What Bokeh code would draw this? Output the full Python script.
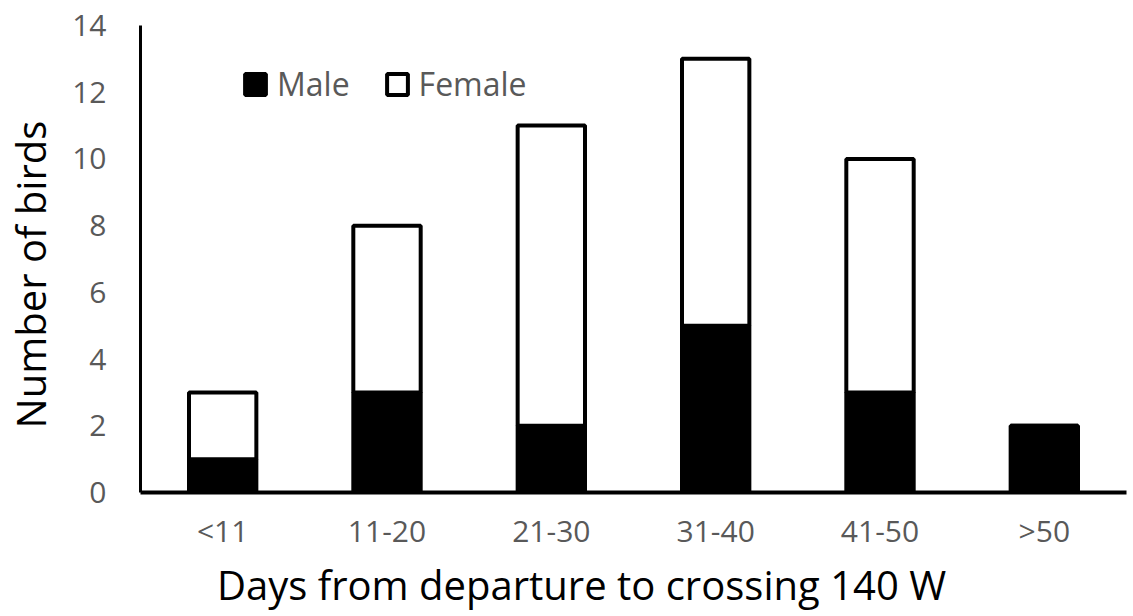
from bokeh.plotting import figure
from bokeh.models import FactorRange, Range1d, Legend, LegendItem, FixedTicker
from bokeh.embed import file_html
from bokeh.resources import INLINE

categories = ["<11", "11-20", "21-30", "31-40", "41-50", ">50"]
male = [1, 3, 2, 5, 3, 2]
female = [2, 5, 9, 8, 7, 0]
y_ticks = [0, 2, 4, 6, 8, 10, 12, 14]

FONT = "Open Sans"
GRAY = "#595959"
NBSP = "\u00a0"

p = figure(
    x_range=FactorRange(*categories, range_padding=0),
    y_range=Range1d(0, 14),
    width=1133, height=616,
    output_backend="svg", toolbar_location=None,
    min_border_left=140, min_border_right=7, min_border_top=25, min_border_bottom=124,
    outline_line_color=None,
)
p.xgrid.visible = False
p.ygrid.visible = False

src = dict(cat=categories, male=male, female=female)
r = p.vbar_stack(["male", "female"], x="cat", width=0.41, source=src,
                 fill_color=["black", "white"], line_color="black", line_width=4)

p.yaxis.ticker = FixedTicker(ticks=y_ticks)
for ax in (p.xaxis, p.yaxis):
    ax.major_tick_line_color = None
    ax.minor_tick_line_color = None
    ax.major_tick_out = 0
    ax.major_tick_in = 0
    ax.minor_tick_out = 0
    ax.minor_tick_in = 0
    ax.axis_line_color = "black"
    ax.major_label_text_font = FONT
    ax.major_label_text_font_size = "30px"
    ax.major_label_text_color = GRAY
    ax.axis_label_text_font = FONT
    ax.axis_label_text_font_size = "40px"
    ax.axis_label_text_font_style = "normal"
    ax.axis_label_text_color = "black"
p.xaxis.axis_line_width = 4
p.yaxis.axis_line_width = 3
p.yaxis.major_label_standoff = 34
p.xaxis.major_label_standoff = 17
# trailing no-break spaces shift the centred titles to where the reference has them
p.yaxis.axis_label = "Number of birds" + NBSP * 3
p.xaxis.axis_label = "Days from departure to crossing 140 W" + NBSP * 10
p.yaxis.axis_label_standoff = 11
p.xaxis.axis_label_standoff = 3

legend = Legend(
    items=[LegendItem(label="Male", renderers=[r[0]]),
           LegendItem(label="Female", renderers=[r[1]])],
    orientation="horizontal", location=(102, 387),
    glyph_width=26, glyph_height=26, label_standoff=9, spacing=34,
    padding=0, margin=0,
    border_line_color=None, background_fill_alpha=0,
    label_text_font=FONT, label_text_font_size="32px", label_text_color=GRAY,
)
p.add_layout(legend)

open("out.html", "w").write(file_html(p, INLINE))
